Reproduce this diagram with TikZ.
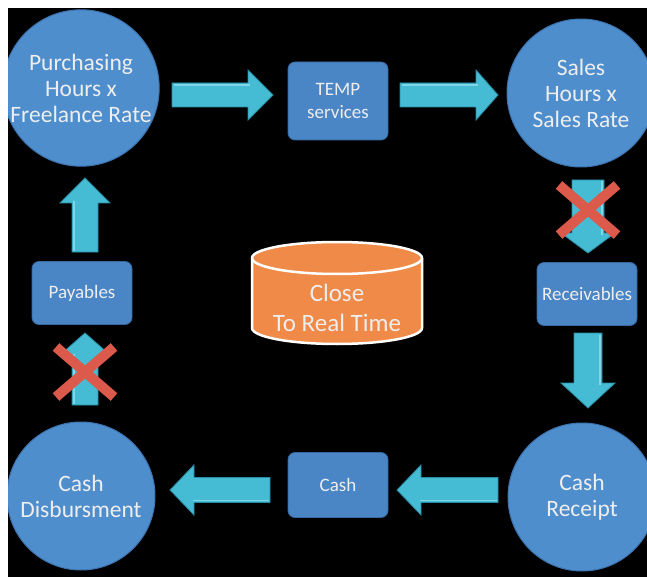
\documentclass[tikz,border=0pt]{standalone}
\usepackage{fontspec}
\setmainfont{Carlito}
\usetikzlibrary{calc}
\definecolor{circfill}{HTML}{4F8ECD}
\definecolor{circedge}{HTML}{3C74B0}
\definecolor{boxfill}{HTML}{4A85C6}
\definecolor{boxedge}{HTML}{35689F}
\definecolor{arrfill}{HTML}{45BCD3}
\definecolor{arredge}{HTML}{2A8DA6}
\definecolor{arrlight}{HTML}{7ED6E6}
\definecolor{cylfill}{HTML}{F08A48}
\definecolor{xred}{HTML}{DB5A4C}
\definecolor{txt}{HTML}{EEEEEE}
\newcommand\BArr[6]{%
  \begin{scope}[shift={(#1)},rotate=#2]
    \filldraw[arrshape] (0,-#5) -- ({#3-#4},-#5) -- ({#3-#4},-#6) -- (#3,0) -- ({#3-#4},#6) -- ({#3-#4},#5) -- (0,#5) -- cycle;
    \draw[arrlight, line width=1.2pt] (1.5,{-#5+2}) -- ({#3-#4+1.5},{-#5+2});
  \end{scope}}
\begin{document}
\begin{tikzpicture}[x=1pt,y=-1pt,
  circnode/.style={circle, fill=circfill, draw=circedge, line width=1pt, minimum size=148pt, inner sep=0pt, align=center, text=txt, font=\fontsize{23.5}{26}\selectfont},
  boxnode/.style={rectangle, rounded corners=7pt, fill=boxfill, draw=boxedge, line width=0.8pt, minimum width=100pt, inner sep=0pt, align=center, text=txt, font=\fontsize{19}{23}\selectfont},
  arrshape/.style={fill=arrfill, draw=arredge, line width=0.8pt, line join=miter},
  xbar/.style={draw=xred, line width=10pt, line cap=butt}]
\useasboundingbox (0,0) rectangle (647,577);
\fill[white] (0,0) rectangle (647,577);
\fill[black] (8,8) rectangle (648,578);
\begin{scope}
\clip (8,8) rectangle (648,578);
% circles
\node[circnode] (purch) at (81,88) {Purchasing\\Hours x\\Freelance Rate};
\node[circnode] (sales) at (581,93) {Sales\\Hours x\\Sales Rate};
\node[circnode] (disb) at (81,496) {Cash\\Disbursment};
\node[circnode] (recp) at (582,497) {Cash\\Receipt};
\end{scope}
% boxes
\node[boxnode, minimum height=78pt] (temp) at (338,101) {TEMP\\services};
\node[boxnode, minimum height=63pt] (recv) at (587,294) {Receivables};
\node[boxnode, minimum height=63pt] (pay) at (82,293) {Payables};
\node[boxnode, minimum height=65pt] (cash) at (338,485) {Cash};
% cylinder
\filldraw[fill=cylfill, draw=white, line width=2.5pt]
  (252,258) -- (252,328) arc[start angle=180, end angle=360, x radius=85, y radius=-16] -- (422,258)
  arc[start angle=0, end angle=180, x radius=85, y radius=-16] -- cycle;
\draw[white, line width=2.5pt] (252,258) arc[start angle=180, end angle=360, x radius=85, y radius=-16];
\node[text=txt, align=center, font=\fontsize{25}{30}\selectfont] (crt) at (337,308) {Close\\To Real Time};
% connector tails
\coordinate (a1) at (172,95);
\coordinate (a2) at (400,95);
\coordinate (a3) at (588,180);
\coordinate (a4) at (588,333);
\coordinate (a5) at (498,490);
\coordinate (a6) at (270,490);
\coordinate (a7) at (85,405);
\coordinate (a8) at (85,252);
\BArr{a1}{0}{101}{25}{12}{25}
\BArr{a2}{0}{98}{22}{12}{25}
\BArr{a3}{-90}{73}{20}{16}{27}
\BArr{a4}{-90}{75}{25}{14}{27}
\BArr{a5}{180}{101}{24}{12.5}{25}
\BArr{a6}{180}{100}{24}{12.5}{25}
\BArr{a7}{90}{72}{22}{13}{25}
\BArr{a8}{90}{74}{25}{13}{25}
% red crosses
\coordinate (x1) at (588,210);
\coordinate (x2) at (85,372);
\foreach \c in {x1,x2}{
  \draw[xbar] ($(\c)+(-29,-25)$) -- ($(\c)+(29,25)$);
  \draw[xbar] ($(\c)+(-29,25)$) -- ($(\c)+(29,-25)$);
}
\end{tikzpicture}
\end{document}
